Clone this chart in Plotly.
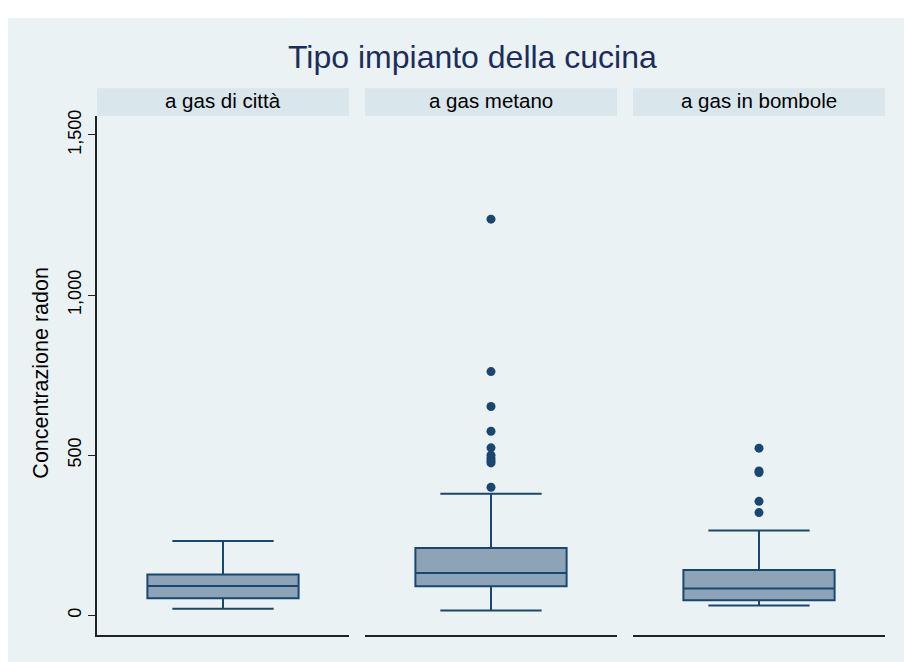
import plotly.graph_objects as go

# Radon concentration by kitchen gas system
panels = ["a gas di città", "a gas metano", "a gas in bombole"]
q1 = [53.5, 91, 47]
median = [92, 132, 84]
q3 = [128, 210, 142]
lower_whisker = [21, 15, 31]
upper_whisker = [232, 380, 265]
outliers = [
    [],
    [1237, 761, 652, 575, 523, 500, 490, 482, 476, 400],
    [522, 451, 446, 356, 321],
]
y_ticks = [0, 500, 1000, 1500]
y_tick_labels = ["0", "500", "1,000", "1,500"]

W, H = 904, 662
NAVY = "#1A476F"
BOX_FILL = "#8DA3B8"
BG = "#EAF2F3"
STRIP = "#D9E6EB"
GRID = "#EAF2F3"
FONT = "Liberation Sans, Arial, sans-serif"

x_px = [(97, 349), (365, 617), (633, 885)]
top_px, bottom_px = 111, 635


def fx(px):
    return px / W


def fy(py):
    return 1 - py / H


fig = go.Figure()
layout = dict(
    width=W,
    height=H,
    margin=dict(l=0, r=0, t=0, b=0),
    paper_bgcolor="white",
    plot_bgcolor="white",
    showlegend=False,
    font=dict(family=FONT, color="black"),
)

shapes = [
    dict(type="rect", xref="paper", yref="paper", x0=fx(8), x1=1, y0=0, y1=fy(12),
         fillcolor=BG, line=dict(width=0), layer="below"),
]
annotations = [
    dict(text="Tipo impianto della cucina", xref="paper", yref="paper",
         x=fx(473), y=fy(51), xanchor="center", yanchor="middle", showarrow=False,
         font=dict(size=32, color="#1C2D5C", family=FONT)),
    dict(text="Concentrazione radon", xref="paper", yref="paper",
         x=fx(41), y=fy(370), xanchor="center", yanchor="middle", showarrow=False,
         textangle=-90, font=dict(size=21.5, color="black", family=FONT)),
]

for i, name in enumerate(panels):
    n = "" if i == 0 else str(i + 1)
    xa, ya = "x" + n, "y" + n
    x0, x1 = x_px[i]
    layout["xaxis" + n] = dict(
        domain=[fx(x0), fx(x1)], range=[-0.5, 0.5], anchor=ya,
        showticklabels=False, ticks="", showgrid=False, zeroline=False,
        showline=True, linecolor="#222222", linewidth=2, fixedrange=True,
    )
    yax = dict(
        domain=[fy(bottom_px), fy(top_px)], range=[-62, 1559], anchor=xa,
        tickvals=y_ticks, gridcolor=GRID, gridwidth=2, zeroline=False,
        fixedrange=True,
    )
    if i == 0:
        yax.update(
            ticktext=y_tick_labels, tickangle=-90, ticks="outside", ticklen=7,
            tickcolor="#222222", showline=True, linecolor="#222222", linewidth=2,
            tickfont=dict(size=18, family=FONT, color="black"),
        )
    else:
        yax.update(showticklabels=False, ticks="", showline=False, matches="y")
    layout["yaxis" + n] = yax

    # panel header strip
    shapes.append(dict(type="rect", xref="paper", yref="paper",
                       x0=fx(x0), x1=fx(x1), y0=fy(111), y1=fy(83),
                       fillcolor=STRIP, line=dict(width=0), layer="below"))
    annotations.append(dict(text=name, xref="paper", yref="paper",
                            x=(fx(x0) + fx(x1)) / 2, y=fy(95),
                            xanchor="center", yanchor="middle", showarrow=False,
                            font=dict(size=20.5, color="black", family=FONT)))

    fig.add_trace(go.Box(
        x=[0], q1=[q1[i]], median=[median[i]], q3=[q3[i]],
        lowerfence=[lower_whisker[i]], upperfence=[upper_whisker[i]],
        width=0.6, whiskerwidth=0.67, boxpoints=False,
        fillcolor=BOX_FILL, line=dict(color=NAVY, width=2),
        xaxis=xa, yaxis=ya, hoverinfo="skip",
    ))
    if outliers[i]:
        fig.add_trace(go.Scatter(
            x=[0] * len(outliers[i]), y=outliers[i], mode="markers",
            marker=dict(color=NAVY, size=9), xaxis=xa, yaxis=ya,
            hoverinfo="skip",
        ))

layout["shapes"] = shapes
layout["annotations"] = annotations
fig.update_layout(**layout)
fig.write_html("out.html")
